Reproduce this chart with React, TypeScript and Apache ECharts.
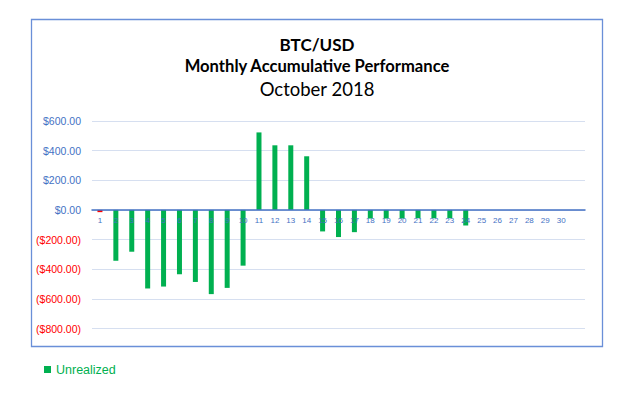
import React, { useEffect, useRef } from "react";
import * as echarts from "echarts";

const days = ["1","2","3","4","5","6","7","8","9","10","11","12","13","14","15","16","17","18","19","20","21","22","23","24","25","26","27","28","29","30",""];
const unrealized = [-15,-343,-282,-530,-517,-434,-486,-568,-526,-376,523,436,436,362,-145,-183,-150,-58,-58,-58,-56,-56,-56,-105,null,null,null,null,null,null,null];
const yTicks = { min: -800, max: 600, interval: 200 };

export default function App() {
  const ref = useRef<HTMLDivElement>(null);
  useEffect(() => {
    if (!ref.current) return;
    const chart = echarts.init(ref.current, null, { renderer: "svg" });
    const blue = "#4472C4";
    const gridTop = 121;
    const gridBottom = 69.5;
    const plotH = 398 - gridTop - gridBottom;
    const zeroOffset = -(plotH * (0 - yTicks.min)) / (yTicks.max - yTicks.min);
    chart.setOption({
      animation: false,
      backgroundColor: "#ffffff",
      title: {
        left: 312,
        textAlign: "center",
        top: 28,
        text: "{a|BTC/USD}\n{b|Monthly Accumulative Performance}\n{c|October 2018}",
        textStyle: {
          rich: {
            a: { fontFamily: "Lato", fontWeight: "bold", fontSize: 17, color: "#000", lineHeight: 22, align: "center" },
            b: { fontFamily: "Lato", fontWeight: "bold", fontSize: 16.6, color: "#000", lineHeight: 22, align: "center" },
            c: { fontFamily: "Lato", fontWeight: "normal", fontSize: 18.5, color: "#000", lineHeight: 23, align: "center" },
          },
        },
      },
      graphic: [
        {
          type: "rect",
          shape: { x: 31.5, y: 19.5, width: 571, height: 327 },
          style: { fill: "none", stroke: "#6A8FD8", lineWidth: 1.3 },
          silent: true,
        },
      ],
      legend: {
        left: 39,
        top: 358,
        icon: "rect",
        itemWidth: 7,
        itemHeight: 7,
        itemGap: 5,
        textStyle: { color: "#00B050", fontSize: 12.5, fontFamily: "Liberation Sans" },
        data: ["Unrealized"],
      },
      grid: { left: 92, right: 55, top: gridTop, bottom: gridBottom, containLabel: false },
      xAxis: {
        type: "category",
        data: days,
        offset: zeroOffset,
        axisLine: { onZero: false, lineStyle: { color: blue, width: 1.5 } },
        axisTick: { show: false },
        axisLabel: { color: blue, fontSize: 8, fontFamily: "Liberation Sans", margin: 7, interval: 0 },
        z: 10,
      },
      yAxis: {
        type: "value",
        min: yTicks.min,
        max: yTicks.max,
        interval: yTicks.interval,
        axisLine: { show: false },
        axisTick: { show: false },
        splitLine: { lineStyle: { color: "#D6DFF0", width: 1 } },
        axisLabel: {
          fontSize: 10.5,
          fontFamily: "Liberation Sans",
          margin: 11,
          formatter: (v: number) =>
            v < 0 ? "{n|($" + Math.abs(v).toFixed(2) + ")}" : "{p|$" + v.toFixed(2) + "}",
          rich: {
            n: { color: "#FF0000", fontSize: 10.5, fontFamily: "Liberation Sans" },
            p: { color: blue, fontSize: 10.5, fontFamily: "Liberation Sans" },
          },
        },
      },
      series: [
        {
          name: "Unrealized",
          type: "bar",
          barWidth: 5,
          z: 1,
          itemStyle: { color: "#00B050" },
          data: unrealized.map((v, i) =>
            i === 0 && v !== null ? { value: v, itemStyle: { color: "#FF0000" } } : v
          ),
        },
      ],
    });
    return () => chart.dispose();
  }, []);
  return (
    <div
      ref={ref}
      style={{ position: "absolute", left: 0, top: 0, width: 640, height: 398 }}
    />
  );
}
